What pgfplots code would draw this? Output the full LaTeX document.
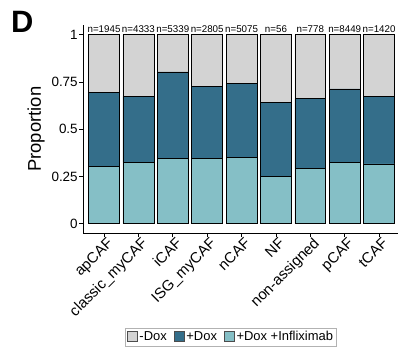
\documentclass[border=0pt]{standalone}
\usepackage{pgfplots}
\pgfplotsset{compat=1.18}
\usepackage{fontspec}
\setmainfont{Liberation Sans}
\definecolor{cgray}{RGB}{211,211,211}
\definecolor{cdark}{RGB}{52,110,138}
\definecolor{clight}{RGB}{133,191,198}
\begin{document}
\begin{tikzpicture}
\begin{axis}[
  name=ax,
  scale only axis, width=314.6bp, height=207.8bp,
  xmin=0.4, xmax=9.55, ymin=-0.05, ymax=1.05,
  axis x line*=bottom, axis y line*=left,
  axis line style={line width=0.8bp, -},
  every tick/.style={black, line width=0.8bp},
  tick align=outside, major tick length=4bp,
  xtick={1,...,9},
  xticklabels={apCAF,classic\_myCAF,iCAF,ISG\_myCAF,nCAF,NF,non-assigned,pCAF,tCAF},
  xticklabel style={rotate=45, anchor=north east, font=\fontsize{15}{15}\selectfont, inner sep=1bp, xshift=3bp},
  ytick={0,0.25,0.5,0.75,1},
  yticklabels={0,0.25,0.5,0.75,1},
  yticklabel style={font=\fontsize{13.5}{14}\selectfont, inner sep=1.5bp},
  /pgf/number format/assume math mode=true,
  ylabel={Proportion},
  ylabel style={at={(axis description cs:-0.150,0.5)}, anchor=center, font=\fontsize{18.5}{19}\selectfont},
  ybar stacked, bar width=0.9,
  clip=false,
  legend columns=3,
  legend style={at={(axis description cs:0.469,-0.5)}, anchor=center, draw=black!30, line width=0.8bp,
    font=\fontsize{13}{14}\selectfont, inner sep=1.5bp,
    /tikz/every even column/.append style={column sep=5bp}},
  legend image code/.code={\draw[#1, line width=0.6bp] (0bp,-4.5bp) rectangle (10bp,5.5bp);},
]
\addlegendimage{fill=cgray, draw=black!70}
\addlegendentry{-Dox}
\addlegendimage{fill=cdark, draw=black!70}
\addlegendentry{+Dox}
\addlegendimage{fill=clight, draw=black!70}
\addlegendentry{+Dox +Infliximab}
% bottom: +Dox +Infliximab
\addplot[fill=clight, draw=black, line width=0.7bp, forget plot] coordinates {
 (1,0.303) (2,0.324) (3,0.344) (4,0.347) (5,0.351) (6,0.250) (7,0.293) (8,0.326) (9,0.316)};
% middle: +Dox
\addplot[fill=cdark, draw=black, line width=0.7bp, forget plot] coordinates {
 (1,0.390) (2,0.350) (3,0.459) (4,0.379) (5,0.393) (6,0.392) (7,0.368) (8,0.387) (9,0.358)};
% top: -Dox
\addplot[fill=cgray, draw=black, line width=0.7bp, forget plot] coordinates {
 (1,0.307) (2,0.326) (3,0.197) (4,0.274) (5,0.256) (6,0.358) (7,0.339) (8,0.287) (9,0.326)};
\coordinate (O) at (rel axis cs:0,0);
\end{axis}
\begin{axis}[
  scale only axis, width=314.6bp, height=207.8bp,
  xmin=0.4, xmax=9.55, ymin=-0.05, ymax=1.05,
  hide axis, clip=false,
]
\addplot[only marks, mark=none, nodes near coords, point meta=explicit symbolic,
  every node near coord/.style={anchor=base, inner sep=0, font=\fontsize{9.8}{10}\selectfont}]
 table[meta=lab] {
x y lab
1 1.012 n=1945
2 1.012 n=4333
3 1.012 n=5339
4 1.012 n=2805
5 1.012 n=5075
6 1.012 n=56
7 1.012 n=778
8 1.012 n=8449
9 1.012 n=1420
};
\end{axis}
\node[anchor=base west,inner sep=0,font=\fontsize{31}{31}\selectfont\bfseries] at ([shift={(-72.4bp,200.1bp)}]O) {D};
\pgfresetboundingbox
\path ([shift={(-83.4bp,-116.9bp)}]O) rectangle ++(398bp,350bp);
\end{tikzpicture}
\end{document}
